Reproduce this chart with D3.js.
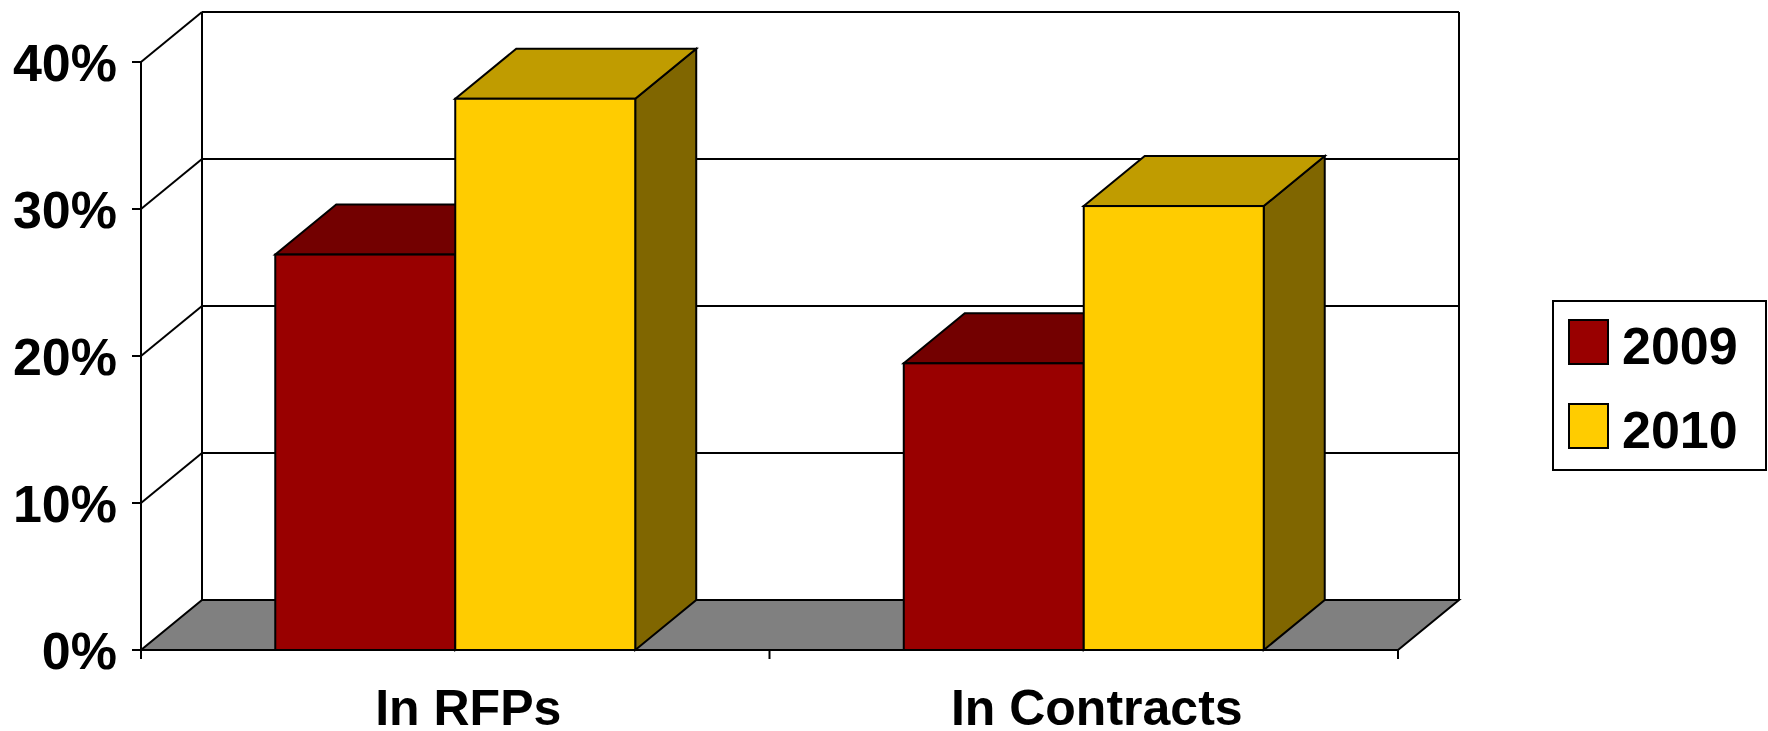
<!DOCTYPE html>
<html>
<head>
<meta charset="utf-8">
<script src="https://cdn.jsdelivr.net/npm/d3@7"></script>
<style>
  html, body { margin: 0; padding: 0; background: #fff; }
  svg { display: block; }
  text { font-family: "Liberation Sans", Arial, sans-serif; font-weight: bold; fill: #000; }
</style>
</head>
<body>
<svg id="chart" width="1768" height="731"></svg>
<script>
// ---- data ----
const categories = ["In RFPs", "In Contracts"];
const seriesNames = ["2009", "2010"];
const values2009 = [26.9, 19.5];
const values2010 = [37.5, 30.2];
const yTicks = [0, 10, 20, 30, 40];
const yTickLabels = ["0%", "10%", "20%", "30%", "40%"];
const frontColors = ["#990000", "#FFCC00"];
const topColors = ["#730000", "#C09C00"];
const sideColors = ["#4D0000", "#806600"];

const seriesValues = [values2009, values2010];

// ---- layout ----
const svg = d3.select("#chart");
const DX = 61, DY = -50;   // 3D depth offset
const x0 = d3.scaleBand().domain(categories).range([141, 1398]).paddingInner(0).paddingOuter(0);
const x1 = d3.scaleBand().domain(seriesNames).range([0, x0.bandwidth()]).paddingInner(0).paddingOuter(0.746);
const y = d3.scaleLinear().domain([0, 40]).range([650, 62]);

const y0 = y(0), yTop = y(40);
const xL = x0.range()[0], xR = x0.range()[1];

const g = svg.append("g").attr("stroke", "#000").attr("stroke-width", 2).attr("stroke-linejoin", "miter");

// back wall gridlines
g.selectAll("line.grid").data(yTicks.filter(d => d > 0)).enter().append("line")
  .attr("x1", xL + DX).attr("x2", xR + DX)
  .attr("y1", d => y(d) + DY).attr("y2", d => y(d) + DY);
// side wall diagonal lines
g.selectAll("line.sideg").data(yTicks.filter(d => d > 0)).enter().append("line")
  .attr("x1", xL).attr("x2", xL + DX)
  .attr("y1", d => y(d)).attr("y2", d => y(d) + DY);
// back wall verticals
g.append("line").attr("x1", xL + DX).attr("x2", xL + DX).attr("y1", yTop + DY).attr("y2", y0 + DY);
g.append("line").attr("x1", xR + DX).attr("x2", xR + DX).attr("y1", yTop + DY).attr("y2", y0 + DY);

// floor
g.append("path")
  .attr("fill", "#808080")
  .attr("d", `M${xL},${y0}L${xR},${y0}L${xR + DX},${y0 + DY}L${xL + DX},${y0 + DY}Z`);

// bars
const bars = [];
categories.forEach((c, ci) => {
  seriesNames.forEach((s, si) => {
    bars.push({ c, s, si, v: seriesValues[si][ci] });
  });
});
const bg = g.selectAll("g.bar").data(bars).enter().append("g");
bg.each(function (d) {
  const sel = d3.select(this);
  const bx = x0(d.c) + x1(d.s), bw = x1.bandwidth();
  const ty = y(d.v);
  // side face
  sel.append("path").attr("fill", sideColors[d.si])
    .attr("d", `M${bx + bw},${y0}L${bx + bw + DX},${y0 + DY}L${bx + bw + DX},${ty + DY}L${bx + bw},${ty}Z`);
  // top face
  sel.append("path").attr("fill", topColors[d.si])
    .attr("d", `M${bx},${ty}L${bx + DX},${ty + DY}L${bx + bw + DX},${ty + DY}L${bx + bw},${ty}Z`);
  // front face
  sel.append("rect").attr("fill", frontColors[d.si])
    .attr("x", bx).attr("y", ty).attr("width", bw).attr("height", y0 - ty);
});

// front axes
g.append("line").attr("x1", xL).attr("x2", xL).attr("y1", yTop).attr("y2", y0 + 9);
g.append("line").attr("x1", xL).attr("x2", xR).attr("y1", y0).attr("y2", y0);
g.selectAll("line.ytick").data(yTicks).enter().append("line")
  .attr("x1", xL - 9).attr("x2", xL).attr("y1", d => y(d)).attr("y2", d => y(d));
const xTickPos = [xL].concat(categories.map(c => x0(c) + x0.bandwidth()));
g.selectAll("line.xtick").data(xTickPos).enter().append("line")
  .attr("x1", d => d).attr("x2", d => d).attr("y1", y0).attr("y2", y0 + 9);

// y labels
svg.append("g").selectAll("text").data(yTicks).enter().append("text")
  .attr("x", 117).attr("y", d => y(d) + 19)
  .attr("text-anchor", "end").attr("font-size", 52)
  .text((d, i) => yTickLabels[i]);

// category labels
svg.append("g").selectAll("text").data(categories).enter().append("text")
  .attr("x", d => x0(d) + x0.bandwidth() / 2 + 13).attr("y", 725)
  .attr("text-anchor", "middle").attr("font-size", 50)
  .text(d => d);

// legend
const lg = svg.append("g");
lg.append("rect").attr("x", 1553).attr("y", 301).attr("width", 213).attr("height", 169)
  .attr("fill", "#fff").attr("stroke", "#000").attr("stroke-width", 2);
seriesNames.forEach((s, i) => {
  lg.append("rect").attr("x", 1569).attr("y", 320 + i * 84).attr("width", 39).attr("height", 44)
    .attr("fill", frontColors[i]).attr("stroke", "#000").attr("stroke-width", 2);
  lg.append("text").attr("x", 1622).attr("y", 364 + i * 84).attr("font-size", 52).text(s);
});
</script>
</body>
</html>
